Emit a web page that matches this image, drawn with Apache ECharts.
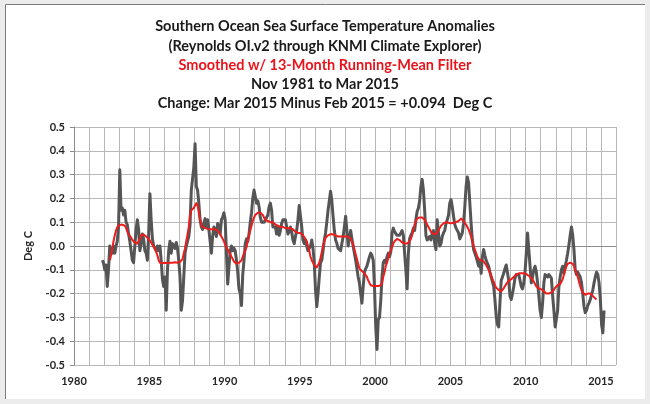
<!DOCTYPE html>
<html>
<head>
<meta charset="utf-8">
<script src="https://cdn.jsdelivr.net/npm/echarts@6/dist/echarts.min.js"></script>
<style>
html,body{margin:0;padding:0;background:#ececec;}
#c{width:650px;height:404px;}
</style>
</head>
<body>
<div id="c"></div>
<script>
// ---- Data ----
var titleLines = [
  "Southern Ocean Sea Surface Temperature Anomalies",
  "(Reynolds OI.v2 through KNMI Climate Explorer)",
  "Smoothed w/ 13-Month Running-Mean Filter",
  "Nov 1981 to Mar 2015",
  "Change: Mar 2015 Minus Feb 2015 = +0.094  Deg C"
];
var yAxisName = "Deg C";
var xTickLabels = [1980, 1985, 1990, 1995, 2000, 2005, 2010, 2015];

// Monthly anomalies, starting Nov 1981
var anomStart = [1981, 11];
var anom1980s = [
  -0.06, -0.07,
  -0.10, -0.08, -0.17, -0.10, 0.00, -0.02, -0.03, 0.00, -0.03, 0.00, 0.02, 0.08,
  0.32, 0.15, 0.16, 0.13, 0.15, 0.10, 0.09, 0.05, 0.02, -0.02, -0.06, -0.07,
  0.00, 0.07, 0.11, 0.07, -0.02, 0.01, 0.05, 0.03, -0.02, -0.03, -0.06, 0.05,
  0.22, 0.11, 0.03, 0.00, 0.00, -0.02, 0.00, -0.02, 0.00, -0.06, -0.14, -0.17,
  -0.13, -0.27, -0.10, -0.02, 0.02, -0.03, 0.01, 0.00, -0.01, 0.015, -0.01, -0.06,
  -0.13, -0.27, -0.23, -0.13, -0.03, 0.00, 0.00, 0.04, 0.09, 0.235, 0.235, 0.33,
  0.43, 0.25, 0.235, 0.18, 0.11, 0.08, 0.07, 0.095, 0.115, 0.08, 0.11, 0.07,
  0.07, -0.03, 0.04, 0.08, 0.07, 0.04, 0.095, 0.08, 0.05, 0.11, 0.12, 0.14
];
var anom1990s = [
  0.11, -0.03, -0.16, -0.09, -0.02, 0.00, -0.02, -0.01, -0.02, -0.06, -0.11, -0.18,
  -0.20, -0.25, -0.12, -0.06, 0.01, 0.03, 0.02, 0.05, 0.10, 0.14, 0.20, 0.235,
  0.235, 0.18, 0.19, 0.165, 0.12, 0.10, 0.095, 0.10, 0.11, 0.12, 0.13, 0.165,
  0.18, 0.15, 0.08, 0.075, 0.08, 0.05, 0.08, 0.045, 0.065, 0.095, 0.11, 0.115,
  0.11, 0.08, 0.05, 0.06, 0.08, 0.06, 0.025, 0.01, 0.04, 0.065, 0.11, 0.17,
  0.165, 0.08, 0.025, 0.01, 0.025, 0.00, -0.02, -0.01, 0.00, 0.025, -0.01, -0.07,
  -0.185, -0.255, -0.20, -0.13, -0.07, -0.06, -0.02, 0.025, 0.055, 0.10, 0.15, 0.19,
  0.23, 0.19, 0.125, 0.065, 0.025, 0.01, -0.01, -0.01, -0.02, -0.025, 0.04, 0.08,
  0.125, 0.065, 0.00, 0.03, 0.065, 0.03, 0.00, -0.03, -0.06, -0.095, -0.13, -0.155,
  -0.20, -0.24, -0.17, -0.11, -0.095, -0.085, -0.065, -0.045, -0.03, -0.04, -0.06, -0.17
];
var anom2000s = [
  -0.34, -0.435, -0.31, -0.30, -0.23, -0.13, -0.07, -0.06, -0.07, -0.045, -0.03, -0.045,
  -0.025, 0.055, 0.075, 0.06, 0.055, 0.045, 0.04, 0.045, 0.055, 0.065, 0.045, -0.03,
  -0.10, -0.18, -0.03, 0.03, 0.045, 0.055, 0.075, 0.065, 0.11, 0.145, 0.16, 0.19,
  0.25, 0.28, 0.235, 0.15, 0.045, 0.025, 0.03, 0.04, 0.025, 0.055, 0.065, 0.01,
  -0.015, 0.11, 0.115, 0.00, 0.01, 0.04, 0.055, 0.065, 0.095, 0.11, 0.13, 0.18,
  0.195, 0.165, 0.125, 0.09, 0.075, 0.07, 0.055, 0.03, 0.025, 0.055, 0.095, 0.165,
  0.25, 0.29, 0.265, 0.18, 0.095, 0.025, -0.015, -0.015, -0.045, -0.065, -0.085, -0.06,
  -0.115, -0.045, -0.015, -0.04, -0.06, -0.065, -0.085, -0.11, -0.13, -0.15, -0.17, -0.225,
  -0.295, -0.33, -0.34, -0.24, -0.145, -0.13, -0.115, -0.095, -0.08, -0.075, -0.145, -0.21,
  -0.225, -0.20, -0.17, -0.135, -0.12, -0.115, -0.12, -0.115, -0.17, -0.18, -0.155, -0.11
];
var anom2010s = [
  -0.03, 0.055, -0.015, -0.085, -0.155, -0.13, -0.10, -0.085, -0.11, -0.155, -0.21, -0.27,
  -0.30, -0.24, -0.155, -0.12, -0.115, -0.13, -0.12, -0.118, -0.135, -0.21, -0.27, -0.34,
  -0.34, -0.27, -0.17, -0.13, -0.10, -0.085, -0.115, -0.085, -0.06, -0.03, 0.005, 0.045,
  0.08, 0.045, -0.015, -0.10, -0.12, -0.11, -0.115, -0.13, -0.155, -0.20, -0.255, -0.28,
  -0.27, -0.25, -0.24, -0.225, -0.205, -0.185, -0.155, -0.13, -0.11, -0.12, -0.155, -0.22,
  -0.33, -0.365, -0.271
];

// 13-month running mean, starting May 1982
var smoothStart = [1982, 5];
var smooth1980s = [
  -0.06, -0.04, -0.01, 0.02, 0.045, 0.065, 0.08, 0.085,
  0.088, 0.09, 0.09, 0.09, 0.085, 0.075, 0.06, 0.05, 0.045, 0.035, 0.025, 0.02,
  0.015, 0.012, 0.01, 0.015, 0.03, 0.045, 0.05, 0.048, 0.045, 0.04, 0.035, 0.03,
  0.025, 0.015, 0.005, 0.00, -0.01, -0.025, -0.04, -0.06, -0.07, -0.072, -0.072, -0.07,
  -0.07, -0.07, -0.072, -0.07, -0.07, -0.068, -0.07, -0.07, -0.068, -0.068, -0.07, -0.068,
  -0.066, -0.063, -0.055, -0.03, -0.01, 0.02, 0.05, 0.08, 0.13, 0.15, 0.155, 0.16,
  0.17, 0.18, 0.17, 0.14, 0.11, 0.09, 0.08, 0.078, 0.075, 0.074, 0.072, 0.07,
  0.07, 0.07, 0.07, 0.07, 0.07, 0.068, 0.065, 0.06, 0.05, 0.04, 0.03, 0.02
];
var smooth1990s = [
  0.005, -0.005, -0.015, -0.025, -0.035, -0.045, -0.055, -0.065, -0.072, -0.075, -0.072, -0.07,
  -0.065, -0.06, -0.045, -0.03, -0.02, -0.005, 0.02, 0.045, 0.065, 0.085, 0.105, 0.12,
  0.13, 0.135, 0.14, 0.145, 0.14, 0.135, 0.13, 0.12, 0.11, 0.105, 0.105, 0.105,
  0.10, 0.10, 0.10, 0.095, 0.09, 0.09, 0.085, 0.08, 0.08, 0.08, 0.08, 0.078,
  0.075, 0.075, 0.075, 0.075, 0.075, 0.072, 0.07, 0.065, 0.06, 0.055, 0.055, 0.055,
  0.055, 0.05, 0.045, 0.04, 0.03, 0.02, 0.00, -0.02, -0.045, -0.06, -0.07, -0.08,
  -0.088, -0.09, -0.085, -0.07, -0.05, -0.025, 0.00, 0.02, 0.035, 0.04, 0.045, 0.048,
  0.05, 0.05, 0.048, 0.045, 0.045, 0.04, 0.04, 0.04, 0.04, 0.04, 0.04, 0.04,
  0.04, 0.04, 0.04, 0.035, 0.03, 0.02, 0.005, -0.015, -0.035, -0.055, -0.075, -0.095,
  -0.10, -0.105, -0.11, -0.115, -0.12, -0.13, -0.145, -0.155, -0.165, -0.167, -0.168, -0.168
];
var smooth2000s = [
  -0.168, -0.168, -0.168, -0.167, -0.165, -0.155, -0.13, -0.11, -0.085, -0.07, -0.05, -0.03,
  -0.02, -0.005, 0.01, 0.02, 0.025, 0.03, 0.03, 0.025, 0.02, 0.015, 0.01, 0.01,
  0.01, 0.01, 0.015, 0.02, 0.03, 0.045, 0.07, 0.09, 0.105, 0.115, 0.118, 0.12,
  0.12, 0.12, 0.118, 0.11, 0.10, 0.09, 0.08, 0.07, 0.06, 0.055, 0.05, 0.045,
  0.05, 0.055, 0.065, 0.075, 0.085, 0.09, 0.095, 0.098, 0.10, 0.10, 0.098, 0.095,
  0.095, 0.095, 0.098, 0.10, 0.10, 0.10, 0.105, 0.11, 0.115, 0.11, 0.105, 0.10,
  0.09, 0.08, 0.07, 0.055, 0.04, 0.02, 0.00, -0.015, -0.03, -0.045, -0.055, -0.06,
  -0.06, -0.063, -0.065, -0.07, -0.08, -0.09, -0.10, -0.11, -0.125, -0.14, -0.15, -0.165,
  -0.175, -0.18, -0.185, -0.19, -0.19, -0.185, -0.178, -0.17, -0.16, -0.155, -0.145, -0.14,
  -0.14, -0.14, -0.13, -0.125, -0.12, -0.115, -0.115, -0.115, -0.115, -0.115, -0.115, -0.117
];
var smooth2010s = [
  -0.118, -0.12, -0.125, -0.13, -0.135, -0.14, -0.15, -0.16, -0.17, -0.175, -0.178, -0.18,
  -0.182, -0.185, -0.19, -0.195, -0.20, -0.20, -0.20, -0.20, -0.195, -0.19, -0.185, -0.175,
  -0.17, -0.165, -0.163, -0.16, -0.15, -0.14, -0.12, -0.10, -0.085, -0.075, -0.07, -0.07,
  -0.072, -0.075, -0.085, -0.10, -0.115, -0.13, -0.15, -0.17, -0.185, -0.195, -0.20, -0.205,
  -0.205, -0.20, -0.20, -0.20, -0.205, -0.21, -0.215, -0.22, -0.225
];

// ---- Build series points (x = decimal year at mid-month) ----
function toPoints(start, values) {
  var pts = [];
  for (var i = 0; i < values.length; i++) {
    var m = start[1] - 1 + i;
    var yr = start[0] + Math.floor(m / 12);
    var mo = m % 12;
    pts.push([yr + (mo + 0.5) / 12, values[i]]);
  }
  return pts;
}
var anomaly = anom1980s.concat(anom1990s, anom2000s, anom2010s);
var smoothed = smooth1980s.concat(smooth1990s, smooth2000s, smooth2010s);

var chart = echarts.init(document.getElementById('c'), null, {renderer: 'canvas'});
var FONT = 'Lato, "Open Sans", sans-serif';
var titleY = [26, 46, 65, 84, 103];
var titleColors = ['#1a1a1a', '#1a1a1a', '#e8141c', '#1a1a1a', '#1a1a1a'];
var graphics = [{
  type: 'rect', z: -10,
  shape: {x: 5, y: 4, width: 640, height: 395},
  style: {fill: '#ffffff'}
}, {
  type: 'polyline', z: -9,
  shape: {points: [[5.5, 399], [5.5, 4.5], [645, 4.5]]},
  style: {stroke: '#7a7a7a', lineWidth: 1, fill: null}
}];
for (var t = 0; t < titleLines.length; t++) {
  graphics.push({
    type: 'text',
    style: {
      text: titleLines[t], x: 325, y: titleY[t],
      align: 'center', verticalAlign: 'middle',
      fontFamily: FONT, fontWeight: 'bold', fontSize: 14.5,
      fill: titleColors[t]
    }
  });
}

chart.setOption({
  animation: false,
  backgroundColor: '#ececec',
  graphic: graphics,
  grid: {left: 74, right: 34, top: 127, bottom: 39, containLabel: false},
  xAxis: {
    type: 'value', min: 1980, max: 2016, interval: 1,
    axisLine: {show: true, lineStyle: {color: '#8c8c8c', width: 1}},
    axisTick: {show: false},
    splitLine: {show: true, lineStyle: {color: '#b8b8b8', width: 1}},
    axisLabel: {
      margin: 11, color: '#262626', fontFamily: FONT, fontWeight: 'bold', fontSize: 11,
      formatter: function (v) {
        var r = Math.round(v);
        return xTickLabels.indexOf(r) >= 0 ? String(r) : '';
      }
    }
  },
  yAxis: {
    type: 'value', min: -0.5, max: 0.5, interval: 0.1,
    name: yAxisName, nameLocation: 'middle', nameGap: 40, nameRotate: 90,
    nameTextStyle: {color: '#262626', fontFamily: FONT, fontWeight: 'bold', fontSize: 11},
    axisLine: {show: true, lineStyle: {color: '#8c8c8c', width: 1}},
    axisTick: {show: true, inside: false, length: 4, lineStyle: {color: '#8c8c8c'}},
    splitLine: {show: true, lineStyle: {color: '#b8b8b8', width: 1}},
    axisLabel: {
      margin: 9, color: '#262626', fontFamily: FONT, fontWeight: 'bold', fontSize: 11,
      formatter: function (v) {
        return Math.abs(v) < 1e-9 ? '0.0' : v.toFixed(1);
      }
    }
  },
  series: [{
    name: 'Monthly', type: 'line', data: toPoints(anomStart, anomaly),
    showSymbol: false, symbol: 'none', smooth: false, z: 2,
    lineStyle: {color: '#555555', width: 3, join: 'round'}
  }, {
    name: '13-Month Running Mean', type: 'line', data: toPoints(smoothStart, smoothed),
    showSymbol: false, symbol: 'none', smooth: false, z: 3,
    lineStyle: {color: '#ee1c1c', width: 2, join: 'round'}
  }]
});
</script>
</body>
</html>
